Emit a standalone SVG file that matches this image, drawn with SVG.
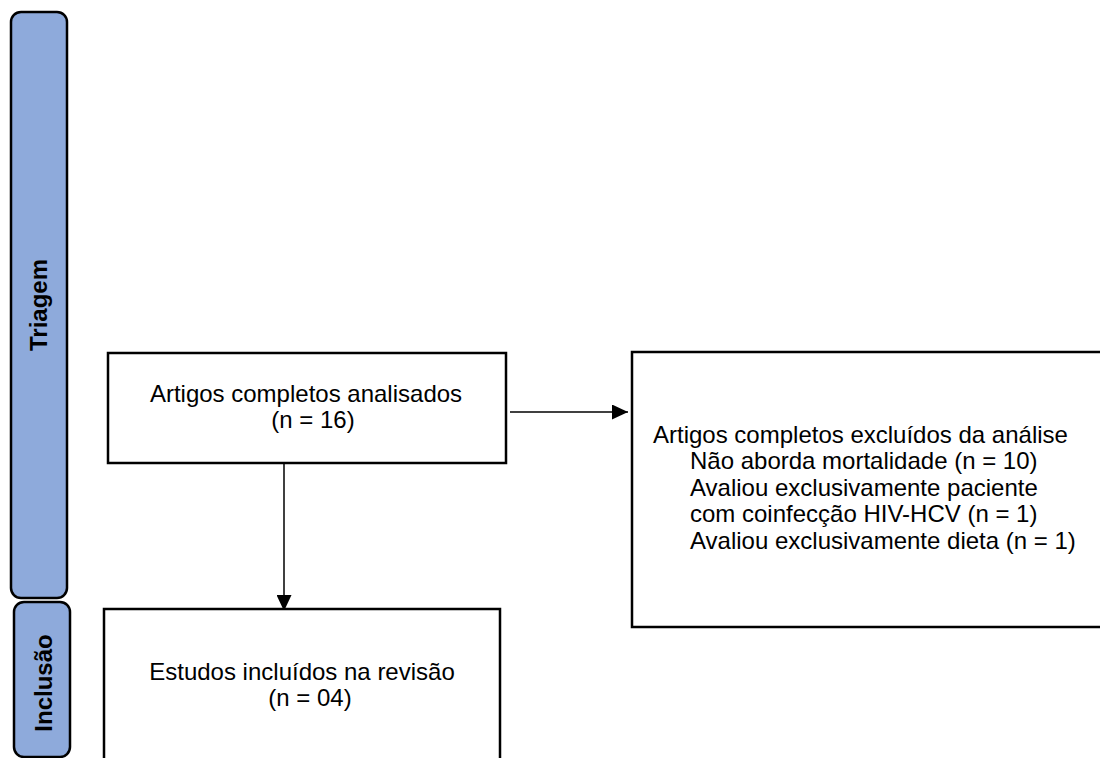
<svg xmlns="http://www.w3.org/2000/svg" width="1100" height="758" viewBox="0 0 1100 758">
<defs>
<style>
.lane{fill:#8EAADB;stroke:#000;stroke-width:2.5}
.box{fill:#fff;stroke:#000;stroke-width:2.5}
.t{font-family:"Liberation Sans",Arial,sans-serif;font-size:24px;fill:#000}
.lt{font-family:"Liberation Sans",Arial,sans-serif;font-size:24px;font-weight:bold;fill:#000}
.c{stroke:#000;stroke-width:1.5;fill:none}
</style>
<marker id="ah" markerWidth="16" markerHeight="15" refX="16" refY="7.5" orient="auto" markerUnits="userSpaceOnUse" viewBox="0 0 16 15">
<path d="M0,0 L16,7.5 L0,15 Z" fill="#000"/>
</marker>
</defs>
<rect width="1100" height="758" fill="#fff"/>
<g id="lane-triagem">
<rect class="lane" x="11" y="12" width="56" height="586" rx="10"/>
<text class="lt" text-anchor="middle" transform="translate(47,305) rotate(-90)">Triagem</text>
</g>
<g id="lane-inclusao">
<rect class="lane" x="14" y="602" width="56" height="155" rx="10"/>
<text class="lt" text-anchor="middle" transform="translate(52,683) rotate(-90)">Inclusão</text>
</g>
<g id="connectors">
<line class="c" x1="510" y1="412" x2="628" y2="412" marker-end="url(#ah)"/>
<line class="c" x1="284" y1="457" x2="284" y2="611" marker-end="url(#ah)"/>
</g>
<g id="node-analisados">
<rect class="box" x="108" y="353" width="398" height="110"/>
<text class="t" text-anchor="middle" x="306" y="402">Artigos completos analisados</text>
<text class="t" text-anchor="middle" x="313" y="428">(n = 16)</text>
</g>
<g id="node-excluidos">
<rect class="box" x="632" y="352" width="470" height="275"/>
<text class="t" x="653" y="443">Artigos completos excluídos da análise</text>
<text class="t" x="690" y="469">Não aborda mortalidade (n = 10)</text>
<text class="t" x="690" y="496">Avaliou exclusivamente paciente</text>
<text class="t" x="690" y="522">com coinfecção HIV-HCV (n = 1)</text>
<text class="t" x="690" y="549">Avaliou exclusivamente dieta (n = 1)</text>
</g>
<g id="node-incluidos">
<rect class="box" x="104" y="609" width="396" height="160"/>
<text class="t" text-anchor="middle" x="302" y="680">Estudos incluídos na revisão</text>
<text class="t" text-anchor="middle" x="310" y="706">(n = 04)</text>
</g>
</svg>
